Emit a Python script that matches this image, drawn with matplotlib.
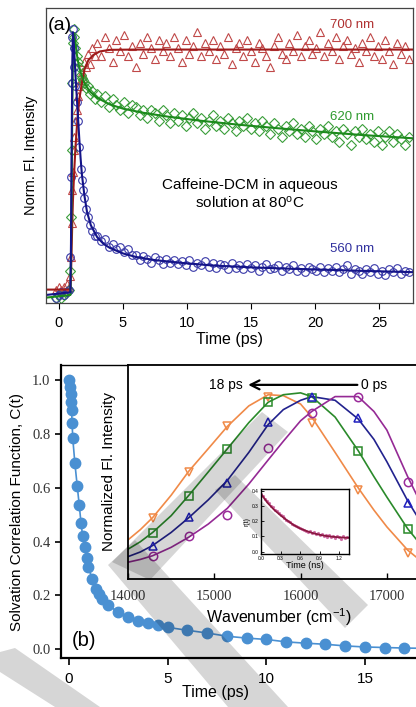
import numpy as np
import matplotlib
matplotlib.use("Agg")
import matplotlib.pyplot as plt
from matplotlib.patches import Polygon

plt.rcParams['font.family'] = ['Liberation Sans', 'DejaVu Sans']
plt.rcParams['mathtext.fontset'] = 'custom'
plt.rcParams['mathtext.rm'] = 'Liberation Sans'
plt.rcParams['mathtext.it'] = 'Liberation Sans:italic'

# ---------------- panel (a): time-resolved decays ----------------
t_early = [-0.2, 0.0, 0.2, 0.4, 0.6, 0.8, 0.9, 0.95, 1.0, 1.05, 1.1, 1.15, 1.2,
           1.3, 1.4, 1.5, 1.6, 1.7, 1.8, 1.9, 2.0, 2.15, 2.3, 2.45, 2.6, 2.8]
t_late = [3.0, 3.3, 3.6, 3.9, 4.2, 4.5, 4.8, 5.1, 5.4, 5.7,
          6.0, 6.3, 6.6, 6.9, 7.2, 7.5, 7.8, 8.1, 8.4, 8.7,
          9.0, 9.3, 9.6, 9.9, 10.2, 10.5, 10.8, 11.1, 11.4, 11.7,
          12.0, 12.3, 12.6, 12.9, 13.2, 13.5, 13.8, 14.1, 14.4, 14.7,
          15.0, 15.3, 15.6, 15.9, 16.2, 16.5, 16.8, 17.1, 17.4, 17.7,
          18.0, 18.3, 18.6, 18.9, 19.2, 19.5, 19.8, 20.1, 20.4, 20.7,
          21.0, 21.3, 21.6, 21.9, 22.2, 22.5, 22.8, 23.1, 23.4, 23.7,
          24.0, 24.3, 24.6, 24.9, 25.2, 25.5, 25.8, 26.1, 26.4, 26.7,
          27.0, 27.3]
time_a = t_early + t_late

i700 = [0.03, 0.04, 0.03, 0.04, 0.05, 0.04, 0.08, 0.15, 0.28, 0.40, 0.47, 0.55, 0.60,
        0.66, 0.70, 0.75, 0.79, 0.81, 0.84, 0.82, 0.88, 0.86, 0.91, 0.87, 0.93, 0.90,
        0.95, 0.90, 0.97, 0.93, 0.88, 0.96, 0.92, 0.98, 0.90, 0.94,
        0.86, 0.95, 0.91, 0.97, 0.93, 0.89, 0.96, 0.92, 0.95, 0.90,
        0.97, 0.93, 0.88, 0.96, 0.91, 0.94, 0.99, 0.90, 0.95, 0.92,
        0.96, 0.89, 0.94, 0.91, 0.97, 0.87, 0.93, 0.95, 0.90, 0.96,
        0.92, 0.88, 0.95, 0.93, 0.90, 0.86, 0.94, 0.97, 0.91, 0.89,
        0.95, 0.92, 0.98, 0.90, 0.94, 0.96, 0.91, 0.93, 0.99, 0.90,
        0.95, 0.92, 0.97, 0.89, 0.94, 0.96, 0.91, 0.93, 0.88, 0.95,
        0.92, 0.97, 0.90, 0.94, 0.89, 0.96, 0.92, 0.87, 0.95, 0.91,
        0.94, 0.89]
i620 = [0.00, 0.01, 0.00, 0.01, 0.02, 0.03, 0.10, 0.30, 0.55, 0.80, 0.95, 1.00, 0.97,
        0.93, 0.90, 0.88, 0.86, 0.83, 0.82, 0.81, 0.80, 0.78, 0.79, 0.76, 0.77, 0.74,
        0.76, 0.73, 0.75, 0.71, 0.74, 0.72, 0.70, 0.73, 0.69, 0.72,
        0.71, 0.68, 0.70, 0.67, 0.70, 0.69, 0.66, 0.70, 0.68, 0.65,
        0.69, 0.66, 0.68, 0.64, 0.67, 0.69, 0.65, 0.67, 0.63, 0.66,
        0.68, 0.64, 0.66, 0.63, 0.67, 0.65, 0.62, 0.66, 0.64, 0.67,
        0.63, 0.65, 0.62, 0.66, 0.64, 0.61, 0.65, 0.63, 0.60, 0.64,
        0.62, 0.65, 0.61, 0.63, 0.60, 0.64, 0.62, 0.59, 0.63, 0.61,
        0.64, 0.60, 0.62, 0.58, 0.63, 0.61, 0.57, 0.62, 0.60, 0.63,
        0.59, 0.61, 0.58, 0.62, 0.57, 0.60, 0.62, 0.58, 0.61, 0.59,
        0.57, 0.60]
i560 = [0.00, 0.01, 0.02, 0.01, 0.02, 0.03, 0.15, 0.45, 0.80, 0.97, 1.00, 0.93, 0.86,
        0.79, 0.73, 0.66, 0.56, 0.48, 0.44, 0.40, 0.37, 0.33, 0.30, 0.27, 0.25, 0.23,
        0.23, 0.21, 0.22, 0.19, 0.20, 0.18, 0.19, 0.17, 0.18, 0.16,
        0.16, 0.14, 0.155, 0.145, 0.13, 0.15, 0.14, 0.125, 0.145, 0.13,
        0.14, 0.125, 0.135, 0.12, 0.14, 0.115, 0.13, 0.12, 0.135, 0.115,
        0.13, 0.11, 0.125, 0.12, 0.105, 0.13, 0.11, 0.12, 0.105, 0.125,
        0.11, 0.12, 0.10, 0.115, 0.125, 0.105, 0.11, 0.12, 0.10, 0.115,
        0.105, 0.12, 0.10, 0.11, 0.095, 0.115, 0.105, 0.10, 0.115, 0.095,
        0.11, 0.10, 0.115, 0.095, 0.105, 0.12, 0.09, 0.105, 0.10, 0.09,
        0.105, 0.095, 0.11, 0.09, 0.10, 0.085, 0.105, 0.095, 0.11, 0.09,
        0.10, 0.095]

fit700_t = [-1.0, 0.9, 0.95, 1.0, 1.05, 1.1, 1.2, 1.3, 1.4, 1.5, 1.6, 1.8, 2.0, 2.3,
            2.7, 3.2, 4.0, 6.0, 27.7]
fit700_y = [0.03, 0.03, 0.08, 0.18, 0.28, 0.36, 0.47, 0.56, 0.63, 0.69, 0.74, 0.80,
            0.85, 0.885, 0.905, 0.918, 0.924, 0.925, 0.925]
fit620_t = [-1.0, 0.9, 0.95, 1.0, 1.05, 1.1, 1.15, 1.2, 1.3, 1.4, 1.5, 1.7, 2.0, 2.4,
            3.0, 4.0, 5.0, 6.5, 8.5, 11, 14, 17, 20, 23.5, 27.7]
fit620_y = [0.0, 0.01, 0.15, 0.40, 0.70, 0.90, 0.98, 0.985, 0.95, 0.91, 0.88, 0.84,
            0.80, 0.77, 0.745, 0.72, 0.705, 0.69, 0.675, 0.66, 0.645, 0.632, 0.62,
            0.607, 0.594]
fit560_t = [-1.0, 0.9, 0.95, 1.0, 1.05, 1.1, 1.15, 1.2, 1.3, 1.4, 1.5, 1.6, 1.7, 1.8,
            2.0, 2.2, 2.5, 3.0, 3.5, 4.0, 5.0, 6.0, 7.5, 9.5, 12, 15, 18, 21.5, 24.5, 27.7]
fit560_y = [0.01, 0.02, 0.2, 0.55, 0.85, 0.99, 0.97, 0.92, 0.83, 0.75, 0.67, 0.59,
            0.52, 0.46, 0.38, 0.32, 0.27, 0.225, 0.2, 0.185, 0.165, 0.152, 0.14, 0.13,
            0.12, 0.113, 0.108, 0.103, 0.099, 0.095]

# ---------------- panel (b): solvation correlation function ----------------
ct_time = [0.0, 0.05, 0.08, 0.1, 0.13, 0.16, 0.19, 0.3, 0.42, 0.52, 0.61, 0.69, 0.79,
           0.9, 0.98, 1.18, 1.37, 1.5, 1.66, 1.98, 2.48, 3.0, 3.5, 4.0, 4.5, 5.0,
           6, 7, 8, 9, 10, 11, 12, 13, 14, 15, 16, 17, 18]
ct_vals = [1.0, 0.975, 0.95, 0.92, 0.89, 0.84, 0.785, 0.69, 0.605, 0.535, 0.47, 0.42,
           0.38, 0.34, 0.305, 0.26, 0.225, 0.205, 0.185, 0.165, 0.137, 0.118, 0.104,
           0.096, 0.088, 0.081, 0.07, 0.06, 0.048, 0.041, 0.036, 0.027, 0.022, 0.018,
           0.012, 0.008, 0.006, 0.004, 0.003]

# inset: time-resolved emission spectra
wn_pts = [14286, 14706, 15152, 15625, 16129, 16667, 17241]
spec18_pts = [0.326, 0.577, 0.822, 0.98, 0.837, 0.478, 0.138]
specg_pts = [0.246, 0.446, 0.697, 0.953, 0.975, 0.688, 0.267]
specb_pts = [0.179, 0.331, 0.518, 0.845, 0.98, 0.864, 0.41]
spec0_pts = [0.124, 0.231, 0.344, 0.706, 0.894, 0.98, 0.523]

wn_line = [13900, 14000, 14143, 14286, 14500, 14706, 14930, 15152, 15400, 15625, 15800,
           16000, 16129, 16400, 16667, 16850, 17000, 17241, 17400, 17550]
spec18_line = [0.18, 0.21, 0.265, 0.33, 0.45, 0.58, 0.70, 0.82, 0.93, 0.99, 0.985,
               0.94, 0.87, 0.68, 0.49, 0.37, 0.28, 0.155, 0.095, 0.06]
specg_line = [0.135, 0.16, 0.20, 0.25, 0.34, 0.45, 0.575, 0.70, 0.84, 0.95, 0.99,
              1.0, 0.98, 0.87, 0.69, 0.55, 0.44, 0.27, 0.18, 0.12]
specb_line = [0.10, 0.12, 0.145, 0.18, 0.25, 0.33, 0.425, 0.53, 0.68, 0.83, 0.91,
              0.96, 0.98, 0.96, 0.86, 0.75, 0.63, 0.42, 0.30, 0.21]
spec0_line = [0.075, 0.09, 0.105, 0.125, 0.17, 0.225, 0.295, 0.38, 0.51, 0.64, 0.74,
              0.85, 0.90, 0.98, 0.98, 0.90, 0.80, 0.55, 0.40, 0.28]

# nested inset: anisotropy decay
r_time = [0.0, 0.03, 0.06, 0.09, 0.12, 0.15, 0.18, 0.21, 0.24, 0.27, 0.30, 0.33,
          0.36, 0.39, 0.42, 0.45, 0.48, 0.51, 0.54, 0.57, 0.60, 0.63, 0.66, 0.69,
          0.72, 0.75, 0.78, 0.81, 0.84, 0.87, 0.90, 0.93, 0.96, 0.99, 1.02, 1.05,
          1.08, 1.11, 1.14, 1.17, 1.20, 1.23, 1.26, 1.29, 1.32]
r_vals = [0.378, 0.362, 0.345, 0.332, 0.318, 0.302, 0.292, 0.276, 0.266, 0.252, 0.240,
          0.232, 0.218, 0.210, 0.198, 0.192, 0.180, 0.176, 0.166, 0.162, 0.152, 0.150,
          0.140, 0.138, 0.130, 0.133, 0.122, 0.126, 0.115, 0.121, 0.108, 0.118, 0.104,
          0.112, 0.098, 0.110, 0.096, 0.106, 0.090, 0.104, 0.094, 0.086, 0.102, 0.088,
          0.097]
rfit_t = [0.0, 0.1, 0.2, 0.3, 0.4, 0.5, 0.6, 0.7, 0.8, 0.9, 1.0, 1.1, 1.2, 1.35]
rfit_y = [0.378, 0.32, 0.275, 0.238, 0.205, 0.175, 0.152, 0.135, 0.121, 0.111, 0.103,
          0.098, 0.094, 0.091]

fig = plt.figure(figsize=(4.16, 7.07), dpi=100)

# ---- panel (a)
ax_a = fig.add_axes([0.1106, 0.5714, 0.8822, 0.4173])
ax_a.plot(time_a, i700, '^', ms=5.5, mfc='none', mec='#c04848', mew=0.8)
ax_a.plot(time_a, i620, 'D', ms=4.8, mfc='none', mec='#3a9e3a', mew=0.8)
ax_a.plot(time_a, i560, 'o', ms=5.5, mfc='none', mec='#3838a8', mew=0.8)
ax_a.plot(fit700_t, fit700_y, color='#9e1a1a', lw=1.5)
ax_a.plot(fit620_t, fit620_y, color='#1c8a1c', lw=1.5)
ax_a.plot(fit560_t, fit560_y, color='#141488', lw=1.5)
ax_a.set_xlim(-1.0, 27.65)
ax_a.set_ylim(-0.02, 1.08)
ax_a.set_yticks([])
ax_a.set_xticks([0, 5, 10, 15, 20, 25])
ax_a.tick_params(axis='x', direction='out', length=4, width=0.8, labelsize=10.5, pad=5)
for s in ax_a.spines.values():
    s.set_color('#444444')
    s.set_linewidth(0.9)
ax_a.set_xlabel('Time (ps)', fontsize=11.5, labelpad=2)
ax_a.set_ylabel('Norm. Fl. Intensity', fontsize=10.5, labelpad=6)
ax_a.text(21.2, 1.015, '700 nm', color='#b03030', fontsize=9.5, va='center')
ax_a.text(21.2, 0.675, '620 nm', color='#2e9a2e', fontsize=9.5, va='center')
ax_a.text(21.2, 0.183, '560 nm', color='#30309e', fontsize=9.5, va='center')
ax_a.text(14.9, 0.385, 'Caffeine-DCM in aqueous\nsolution at 80$^{\\mathrm{o}}$C',
          ha='center', va='center', fontsize=11, linespacing=1.25)
fig.text(48 / 416, 1 - 25 / 707, '(a)', fontsize=14, va='center')

# ---- panel (b)
ax_b = fig.add_axes([0.1466, 0.0693, 0.8967, 0.4144])
ax_b.plot(ct_time, ct_vals, '-', color='#4a90d2', lw=1.2)
ax_b.plot(ct_time, ct_vals, 'o', color='#4a90d2', ms=7.5, mec='#4a90d2')
ax_b.set_xlim(-0.405, 18.5)
ax_b.set_ylim(-0.033, 1.056)
ax_b.set_xticks([0, 5, 10, 15])
ax_b.set_yticks([0.0, 0.2, 0.4, 0.6, 0.8, 1.0])
ax_b.set_yticklabels(['0.0', '0.2', '0.4', '0.6', '0.8', '1.0'])
ax_b.tick_params(axis='x', direction='out', length=5, width=1.2, labelsize=11, pad=5)
ax_b.tick_params(axis='y', direction='out', length=4.5, width=1.2, labelsize=10.5,
                 pad=3, labelcolor='#333333')
for lab in ax_b.get_yticklabels():
    lab.set_fontfamily('Liberation Serif')
for side in ['left', 'bottom']:
    ax_b.spines[side].set_linewidth(1.6)
ax_b.spines['top'].set_linewidth(1.0)
ax_b.set_xlabel('Time (ps)', fontsize=11.5)
ax_b.xaxis.set_label_coords(0.413, -0.092)
ax_b.set_ylabel('Solvation Correlation Function, C(t)', fontsize=11, labelpad=6)
fig.text(72 / 416, 1 - 640 / 707, '(b)', fontsize=14.5, va='center')

# ---- inset spectra
ax_i = fig.add_axes([0.3077, 0.1811, 0.726, 0.3027])
ax_i.plot(wn_line, spec18_line, color='#f08a48', lw=1.2)
ax_i.plot(wn_line, specg_line, color='#2a8a2a', lw=1.2)
ax_i.plot(wn_line, specb_line, color='#22228e', lw=1.2)
ax_i.plot(wn_line, spec0_line, color='#952a95', lw=1.2)
ax_i.plot(wn_pts, spec18_pts, 'v', ms=6, mfc='none', mec='#f08a48', mew=1.1)
ax_i.plot(wn_pts, specg_pts, 's', ms=5.5, mfc='none', mec='#2a8a2a', mew=1.1)
ax_i.plot(wn_pts, specb_pts, '^', ms=6, mfc='none', mec='#2020c0', mew=1.1)
ax_i.plot(wn_pts, spec0_pts, 'o', ms=6, mfc='none', mec='#9a2a9a', mew=1.1)
ax_i.set_xlim(14000, 17500)
ax_i.set_ylim(0, 1.15)
ax_i.set_yticks([])
ax_i.set_xticks([14000, 15000, 16000, 17000])
ax_i.tick_params(axis='x', direction='in', length=4, width=1.0, labelsize=10.5, pad=8,
                 labelcolor='#333333')
for lab in ax_i.get_xticklabels():
    lab.set_fontfamily('Liberation Serif')
for s in ax_i.spines.values():
    s.set_linewidth(1.3)
ax_i.set_xlabel('Wavenumber (cm$^{-1}$)', fontsize=11.5, labelpad=2)
ax_i.set_ylabel('Normalized Fl. Intensity', fontsize=11, labelpad=9)
ax_i.annotate('', xy=(15360, 1.043), xytext=(16690, 1.043), annotation_clip=False,
              arrowprops=dict(arrowstyle='->', color='k', lw=1.6, mutation_scale=16))
ax_i.text(15330, 1.043, '18 ps', ha='right', va='center', fontsize=10)
ax_i.text(16705, 1.043, '0 ps', ha='left', va='center', fontsize=10)

# ---- nested inset anisotropy
ax_n = fig.add_axes([0.6274, 0.2164, 0.2115, 0.0919])
ax_n.plot(r_time, r_vals, '.', color='#d070a8', ms=2.5)
ax_n.plot(rfit_t, rfit_y, color='#8a1840', lw=1.3)
ax_n.set_xlim(0, 1.35)
ax_n.set_ylim(-0.015, 0.41)
ax_n.set_xticks([0.0, 0.3, 0.6, 0.9, 1.2])
ax_n.set_yticks([0.0, 0.1, 0.2, 0.3, 0.4])
ax_n.set_xticklabels(['0.0', '0.3', '0.6', '0.9', '1.2'])
ax_n.set_yticklabels(['0.0', '0.1', '0.2', '0.3', '0.4'])
ax_n.tick_params(direction='in', length=2, width=0.6, labelsize=3.5, pad=1.5)
for s in ax_n.spines.values():
    s.set_linewidth(1.0)
ax_n.set_xlabel('Time (ns)', fontsize=6.5, labelpad=0)
ax_n.set_ylabel('r(t)', fontsize=5, labelpad=1)

# ---- watermark bands (figure pixel coordinates)
def px(pts):
    return [(x / 416, 1 - y / 707) for x, y in pts]

bands = [
    [(0, 652), (15, 648), (100, 707), (55, 707), (0, 672)],
    [(108, 565), (135, 540), (288, 707), (228, 707)],
    [(112, 562), (262, 412), (288, 432), (150, 580)],
    [(215, 490), (235, 475), (368, 605), (345, 628)],
]
for b in bands:
    fig.add_artist(Polygon(px(b), closed=True, transform=fig.transFigure,
                           facecolor='k', edgecolor='none', alpha=0.16, zorder=20))

fig.savefig('out.png', dpi=100)
